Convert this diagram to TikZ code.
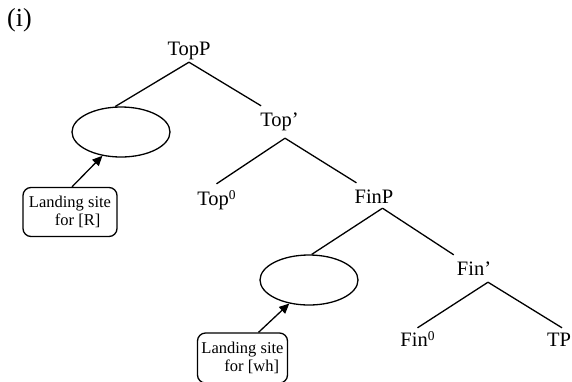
\documentclass[tikz,border=0pt]{standalone}
\usepackage{fontspec}
\setmainfont{Liberation Serif}
\usetikzlibrary{shapes.geometric,arrows.meta}
\newcommand{\zerobar}{\raisebox{5.5pt}{\fontsize{13.5}{15}\selectfont 0}}
\begin{document}
\begin{tikzpicture}[x=1pt,y=-1pt,
  lab/.style={inner xsep=0pt, inner ysep=3pt, text height=14pt, text depth=4pt,
              anchor=base, font=\fontsize{20.5}{24}\selectfont},
  branch/.style={line width=1.3pt},
  site/.style={draw, ellipse, line width=1.3pt, minimum width=98pt,
               minimum height=50pt, inner sep=0pt},
  note/.style={draw, rounded corners=8pt, line width=1.3pt, align=left,
               inner sep=0pt, font=\fontsize{16.5}{18.5}\selectfont},
  point/.style={line width=1.3pt, -{Triangle[length=10pt,width=9pt]}}]
\useasboundingbox (0,0) rectangle (572,381);
\clip (0,0) rectangle (572,381);

% example number
\node[anchor=base west, inner sep=0pt, font=\fontsize{26}{30}\selectfont] (tag) at (7,26) {(i)};

% tree labels
\node[lab] (topp) at (189,55)  {TopP};
\node[lab] (topb) at (279.5,126) {Top’};
\node[lab] (topo) at (216.5,205) {Top\zerobar};
\node[lab] (finp) at (374,203) {FinP};
\node[lab] (finb) at (474,275) {Fin’};
\node[lab] (fino) at (417.5,346) {Fin\zerobar};
\node[lab] (tp)   at (559,346) {TP};

% empty specifier positions
\node[site] (spec1) at (121,132) {};
\node[site] (spec2) at (309,280) {};

% branches
\draw[branch] (topp.south) -- (spec1.103);
\draw[branch] (topp.south) -- ([shift={(1pt,3pt)}]topb.north west);
\draw[branch] ([shift={(5.5pt,-5pt)}]topb.south) -- ([yshift=4pt]topo.north);
\draw[branch] ([shift={(5.5pt,-5pt)}]topb.south) -- ([shift={(2pt,3pt)}]finp.north west);
\draw[branch] ([shift={(8.5pt,2pt)}]finp.south) -- (spec2.84);
\draw[branch] ([shift={(8.5pt,2pt)}]finp.south) -- ([shift={(-3pt,3pt)}]finb.north west);
\draw[branch] ([xshift=14pt]finb.south) -- ([yshift=1pt]fino.north);
\draw[branch] ([xshift=14pt]finb.south) -- ([shift={(3pt,1pt)}]tp.north);

% landing-site notes
\node[note, minimum width=94pt, minimum height=49pt] (note1) at (70,212)
  {Landing site\\\hspace*{26pt}for [R]};
\node[note, minimum width=90pt, minimum height=50pt] (note2) at (242.5,358)
  {Landing site\\\hspace*{23pt}for [wh]};

\draw[point] ([xshift=2pt]note1.north) -- (spec1.232);
\draw[point] ([xshift=16pt]note2.north) -- (spec2.230);
\end{tikzpicture}
\end{document}
